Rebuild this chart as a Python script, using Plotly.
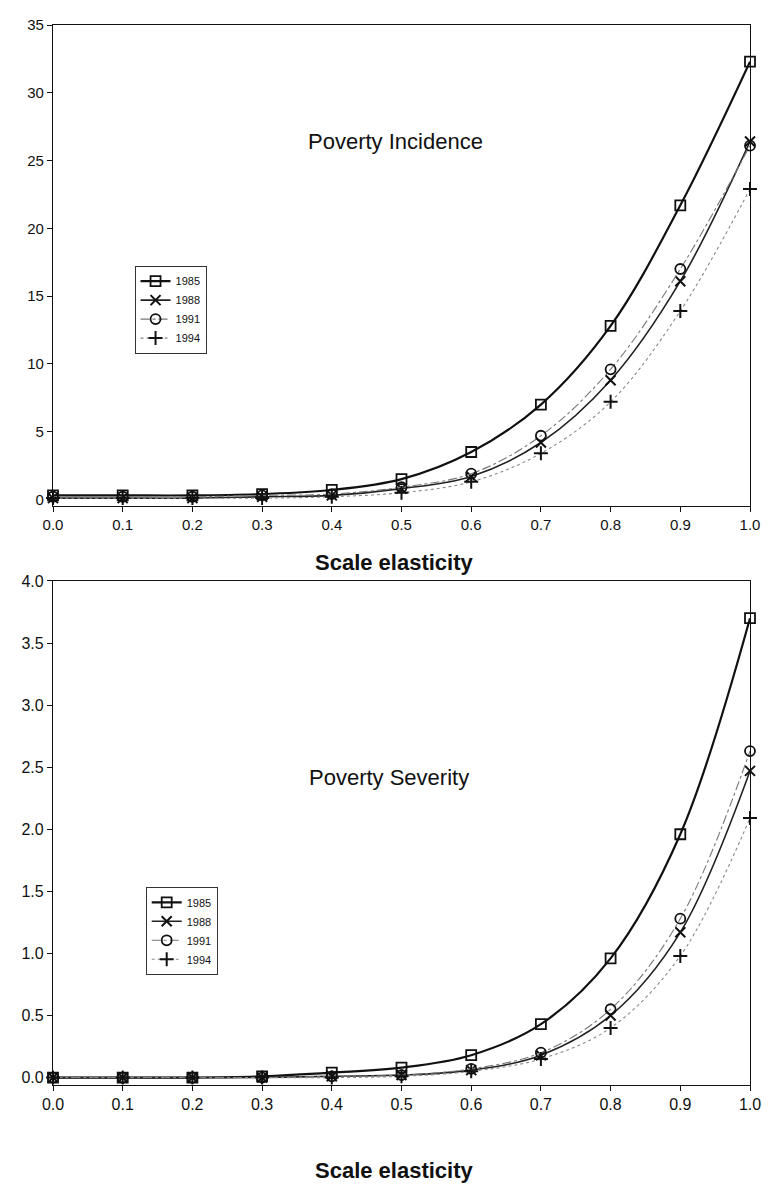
import plotly.graph_objects as go
from plotly.subplots import make_subplots

x_vals = [0.0, 0.1, 0.2, 0.3, 0.4, 0.5, 0.6, 0.7, 0.8, 0.9, 1.0]
years = ["1985", "1988", "1991", "1994"]

incidence_1985 = [0.3, 0.3, 0.3, 0.4, 0.7, 1.5, 3.5, 7.0, 12.8, 21.7, 32.3]
incidence_1988 = [0.1, 0.1, 0.1, 0.2, 0.3, 0.8, 1.7, 4.2, 8.8, 16.1, 26.4]
incidence_1991 = [0.2, 0.2, 0.2, 0.3, 0.4, 0.9, 1.9, 4.7, 9.6, 17.0, 26.1]
incidence_1994 = [0.1, 0.1, 0.1, 0.1, 0.2, 0.5, 1.3, 3.4, 7.2, 13.9, 22.9]

severity_1985 = [0.0, 0.0, 0.0, 0.01, 0.04, 0.08, 0.18, 0.43, 0.96, 1.96, 3.70]
severity_1988 = [0.0, 0.0, 0.0, 0.0, 0.01, 0.02, 0.06, 0.18, 0.50, 1.17, 2.47]
severity_1991 = [0.0, 0.0, 0.0, 0.0, 0.01, 0.02, 0.07, 0.20, 0.55, 1.28, 2.63]
severity_1994 = [0.0, 0.0, 0.0, 0.0, 0.0, 0.01, 0.05, 0.15, 0.40, 0.98, 2.09]

x_ticks = [0.0, 0.1, 0.2, 0.3, 0.4, 0.5, 0.6, 0.7, 0.8, 0.9, 1.0]
x_tick_text = ["0.0", "0.1", "0.2", "0.3", "0.4", "0.5", "0.6", "0.7", "0.8", "0.9", "1.0"]
inc_ticks = [0, 5, 10, 15, 20, 25, 30, 35]
sev_ticks = [0.0, 0.5, 1.0, 1.5, 2.0, 2.5, 3.0, 3.5, 4.0]
sev_tick_text = ["0.0", "0.5", "1.0", "1.5", "2.0", "2.5", "3.0", "3.5", "4.0"]

styles = {
    "1985": dict(line=dict(color="#111111", width=2.2, shape="spline"),
                 marker=dict(symbol="square-open", size=10, color="#111111", line=dict(width=1.8))),
    "1988": dict(line=dict(color="#222222", width=1.6, shape="spline"),
                 marker=dict(symbol="x-thin-open", size=10, color="#111111", line=dict(width=2))),
    "1991": dict(line=dict(color="#777777", width=1.1, shape="spline", dash="dashdot"),
                 marker=dict(symbol="circle-open", size=10, color="#111111", line=dict(width=1.8))),
    "1994": dict(line=dict(color="#888888", width=1.1, shape="spline", dash="dot"),
                 marker=dict(symbol="cross-thin-open", size=10, color="#111111", line=dict(width=2))),
}

fig = make_subplots(rows=2, cols=1, vertical_spacing=0.07)

inc_series = [incidence_1985, incidence_1988, incidence_1991, incidence_1994]
sev_series = [severity_1985, severity_1988, severity_1991, severity_1994]

for yr, ys in zip(years, inc_series):
    fig.add_trace(go.Scatter(x=x_vals, y=ys, mode="lines+markers", name=yr,
                             legend="legend", cliponaxis=False, **styles[yr]), row=1, col=1)
for yr, ys in zip(years, sev_series):
    fig.add_trace(go.Scatter(x=x_vals, y=ys, mode="lines+markers", name=yr,
                             legend="legend2", cliponaxis=False, **styles[yr]), row=2, col=1)

font_fam = "Liberation Sans, Arial, sans-serif"
top_font = dict(family=font_fam, size=15, color="#111111")
bot_font = dict(family=font_fam, size=16, color="#111111")
common_x = dict(range=[0, 1.0], tickvals=x_ticks, ticktext=x_tick_text, showgrid=False,
                zeroline=False, showline=True, linecolor="#111111", linewidth=1.2, mirror=True,
                ticks="outside", ticklen=5, tickcolor="#111111", automargin=False)
common_y = dict(showgrid=False, zeroline=False, showline=True, linecolor="#111111", linewidth=1.2,
                mirror=True, ticks="outside", ticklen=5, tickcolor="#111111", automargin=False)

fig.update_xaxes(**common_x, domain=[0, 1])
fig.update_yaxes(**common_y)
fig.update_xaxes(tickfont=top_font, row=1, col=1)
fig.update_xaxes(tickfont=bot_font, row=2, col=1)
fig.update_yaxes(range=[-0.5, 35], tickvals=inc_ticks, row=1, col=1, domain=[0.546, 1.0],
                 tickfont=top_font)
fig.update_yaxes(range=[-0.06, 4.0], tickvals=sev_ticks, ticktext=sev_tick_text, row=2, col=1,
                 domain=[0.0, 0.4755], tickfont=bot_font)

legend_common = dict(bgcolor="white", bordercolor="#333333", borderwidth=1,
                     font=dict(family=font_fam, size=11, color="#111111"),
                     itemwidth=30, tracegroupgap=0, xanchor="left", yanchor="top")

title_font = dict(family=font_fam, size=22, color="#111111")

fig.update_layout(
    width=779, height=1189,
    margin=dict(l=45, r=37, t=17, b=112, autoexpand=False),
    paper_bgcolor="white", plot_bgcolor="white",
    showlegend=True,
    legend=dict(x=0.117, y=0.773, **legend_common),
    legend2=dict(x=0.133, y=0.187, **legend_common),
    annotations=[
        dict(text="Poverty Incidence", x=0.492, y=0.89, xref="paper", yref="paper",
             xanchor="center", yanchor="middle", showarrow=False, font=title_font),
        dict(text="Poverty Severity", x=0.482, y=0.29, xref="paper", yref="paper",
             xanchor="center", yanchor="middle", showarrow=False, font=title_font),
        dict(text="<b>Scale elasticity</b>", x=0.49, y=0.4925, xref="paper", yref="paper",
             xanchor="center", yanchor="middle", showarrow=False, font=title_font),
        dict(text="<b>Scale elasticity</b>", x=0.49, y=-0.081, xref="paper", yref="paper",
             xanchor="center", yanchor="middle", showarrow=False, font=title_font),
    ],
)

fig.write_html("out.html")
